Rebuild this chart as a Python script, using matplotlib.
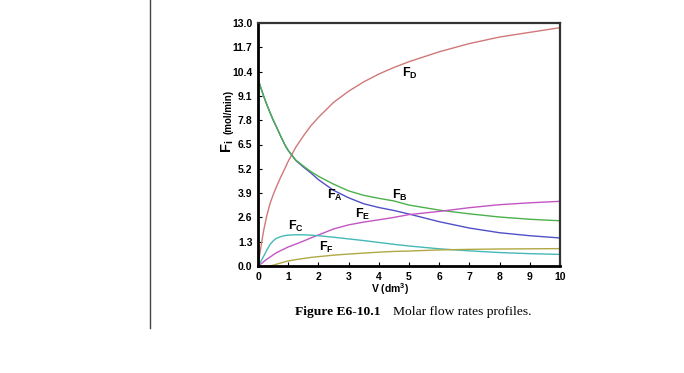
import matplotlib

matplotlib.use("Agg")
import matplotlib.pyplot as plt
from matplotlib.lines import Line2D

plt.rcParams["font.family"] = ["Liberation Sans", "DejaVu Sans"]
plt.rcParams["mathtext.fontset"] = "custom"
plt.rcParams["mathtext.rm"] = "Liberation Sans"
plt.rcParams["mathtext.bf"] = "Liberation Sans:bold"
plt.rcParams["mathtext.default"] = "bf"

# Reactor volume (dm3)
V = [0, 0.05, 0.1, 0.15, 0.2, 0.3, 0.4, 0.5, 0.6, 0.75, 0.9, 1.0, 1.25, 1.5, 1.75,
     2, 2.5, 3, 3.5, 4, 4.5, 5, 6, 7, 8, 9, 10]

# Molar flow rates (mol/min)
F_A = [10, 9.75, 9.5, 9.27, 9.03, 8.6, 8.2, 7.82, 7.48, 6.95, 6.45, 6.18, 5.65, 5.3, 4.98,
       4.62, 4.05, 3.65, 3.33, 3.13, 2.97, 2.78, 2.37, 2.03, 1.78, 1.62, 1.5]
F_B = [10, 9.75, 9.5, 9.27, 9.03, 8.6, 8.2, 7.82, 7.48, 6.95, 6.45, 6.18, 5.67, 5.35, 5.05,
       4.8, 4.38, 4.02, 3.78, 3.62, 3.48, 3.26, 2.99, 2.79, 2.62, 2.5, 2.42]
F_C = [0, 0.13, 0.27, 0.41, 0.56, 0.88, 1.15, 1.34, 1.47, 1.57, 1.63, 1.65, 1.67, 1.67, 1.65,
       1.62, 1.54, 1.45, 1.36, 1.26, 1.16, 1.07, 0.92, 0.81, 0.72, 0.66, 0.62]
F_D = [0, 0.55, 1.05, 1.55, 2.0, 2.75, 3.35, 3.8, 4.2, 4.75, 5.25, 5.6, 6.35, 6.95, 7.5,
       7.95, 8.75, 9.35, 9.85, 10.27, 10.62, 10.93, 11.46, 11.9, 12.25, 12.5, 12.75]
F_E = [0, 0.06, 0.12, 0.18, 0.25, 0.37, 0.48, 0.59, 0.7, 0.82, 0.94, 1.02, 1.17, 1.33, 1.5,
       1.66, 1.98, 2.2, 2.35, 2.47, 2.6, 2.75, 2.92, 3.12, 3.28, 3.38, 3.46]
F_F = [0, 0, 0, 0, 0, 0, 0.01, 0.04, 0.09, 0.16, 0.23, 0.27, 0.34, 0.4, 0.46,
       0.5, 0.58, 0.64, 0.69, 0.74, 0.78, 0.8, 0.86, 0.89, 0.91, 0.92, 0.93]

y_ticks = [0.0, 1.3, 2.6, 3.9, 5.2, 6.5, 7.8, 9.1, 10.4, 11.7, 13.0]
x_ticks = list(range(0, 11))

series = [
    (F_D, "#d07878", "F$_{D}$", 4.76, 10.32),
    (F_A, "#5050c8", "F$_{A}$", 2.27, 3.78),
    (F_B, "#4cb04c", "F$_{B}$", 4.43, 3.75),
    (F_E, "#c455c4", "F$_{E}$", 3.21, 2.78),
    (F_C, "#45b8b8", "F$_{C}$", 0.99, 2.14),
    (F_F, "#b0a844", "F$_{F}$", 2.02, 0.99),
]

fig = plt.figure(figsize=(6.84, 3.73), dpi=100)
ax = fig.add_axes([258 / 684, 1 - 266 / 373, 302 / 684, 243 / 373])

for values, color, label, lx, ly in series:
    ax.plot(V, values, color=color, linewidth=1.0)
    ax.text(lx, ly, label, fontsize=9, fontweight="bold", ha="left", va="center")

ax.set_xlim(0, 10)
ax.set_ylim(0, 13)
ax.set_xticks(x_ticks)
ax.set_yticks(y_ticks)
ax.set_yticklabels([f"{t:.1f}" for t in y_ticks])
ax.tick_params(direction="in", length=3, width=0.8, labelsize=7.5, pad=4)
for lbl in ax.get_xticklabels() + ax.get_yticklabels():
    lbl.set_fontweight("bold")

for side in ["left", "bottom"]:
    ax.spines[side].set_linewidth(2.0)
    ax.spines[side].set_color("black")
for side in ["top", "right"]:
    ax.spines[side].set_linewidth(1.6)
    ax.spines[side].set_color("#333333")

# axis labels
fig.text(390 / 684, 1 - 289 / 373, "V (dm$^{3}$)", fontsize=7.5, fontweight="bold",
         ha="center", va="center")
fig.text(228 / 684, 1 - 146 / 373, "F$_{i}$", fontsize=10.5, fontweight="bold",
         rotation=90, ha="center", va="center")
fig.text(228 / 684, 1 - 112 / 373, "(mol/min)", fontsize=7, fontweight="bold",
         rotation=90, ha="center", va="center")

# caption
fig.text(295 / 684, 1 - 312 / 373, "Figure E6-10.1", fontsize=9.7, fontweight="bold",
         family="Liberation Serif", ha="left", va="center")
fig.text(393 / 684, 1 - 312 / 373, "Molar flow rates profiles.", fontsize=9.7,
         family="Liberation Serif", ha="left", va="center")

# page rule on the left
fig.add_artist(Line2D([150 / 684, 150 / 684], [1, 1 - 328 / 373], color="#444444",
                      linewidth=1.0, transform=fig.transFigure))

fig.savefig("out.png", dpi=100)
